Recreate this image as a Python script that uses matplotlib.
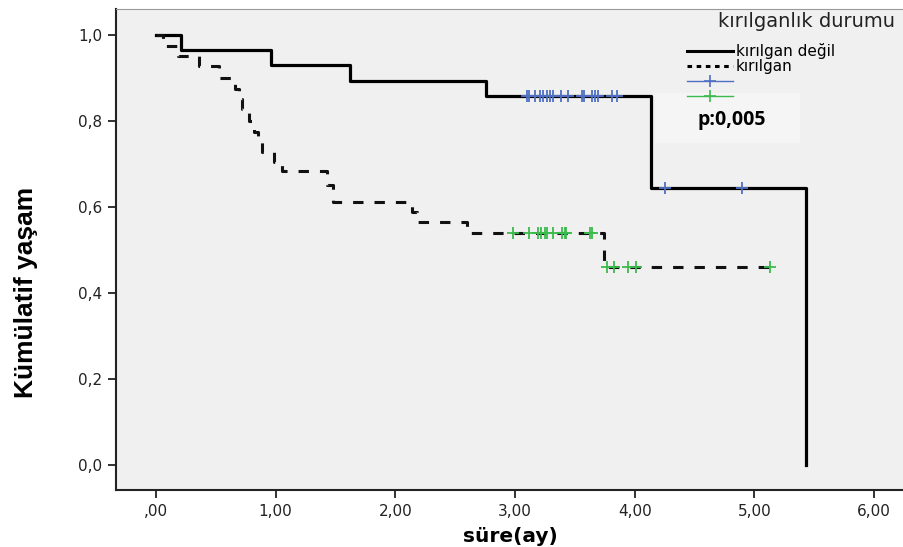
import matplotlib.pyplot as plt
import numpy as np
from matplotlib.lines import Line2D
from matplotlib.patches import Rectangle

# ---------------------------------------------------------------------------
# Kaplan-Meier estimates (time in months)
# ---------------------------------------------------------------------------
solid_t = [0.0, 0.21, 0.96, 1.62, 2.76, 4.14, 5.43]
solid_s = [1.0, 0.964, 0.929, 0.893, 0.857, 0.643, 0.0]

dash_t = [0.0, 0.06, 0.18, 0.36, 0.53, 0.66, 0.69, 0.72, 0.78, 0.82, 0.85,
          0.89, 0.99, 1.05, 1.43, 1.48, 2.14, 2.18, 2.60, 3.74, 5.13]
dash_s = [1.0, 0.975, 0.951, 0.928, 0.90, 0.875, 0.85, 0.828, 0.80, 0.775,
          0.75, 0.728, 0.705, 0.683, 0.65, 0.612, 0.588, 0.565, 0.539, 0.461,
          0.461]

# censored observations
cens_solid = [3.10, 3.12, 3.17, 3.21, 3.23, 3.27, 3.29, 3.32, 3.38, 3.44,
              3.56, 3.58, 3.64, 3.67, 3.69, 3.81, 3.85, 4.25, 4.90]
cens_dash = [2.98, 3.12, 3.19, 3.22, 3.25, 3.27, 3.32, 3.39, 3.42, 3.43,
             3.63, 3.64, 3.77, 3.83, 3.94, 4.01, 5.13]

x_ticks = [0, 1, 2, 3, 4, 5, 6]
x_labels = [",00", "1,00", "2,00", "3,00", "4,00", "5,00", "6,00"]
y_ticks = [0.0, 0.2, 0.4, 0.6, 0.8, 1.0]
y_labels = ["0,0", "0,2", "0,4", "0,6", "0,8", "1,0"]

BLUE = "#4f6fc4"
GREEN = "#3cba4e"


def km_at(times, surv, t):
    idx = np.searchsorted(times, t, side="right") - 1
    return np.asarray(surv)[idx]


def main() -> None:
    fig = plt.figure(figsize=(9.04, 5.47), dpi=100)
    ax = fig.add_axes([116 / 904, 57 / 547, 788 / 904, 481 / 547])
    ax.set_facecolor("#f0f0f0")

    ax.step(solid_t, solid_s, where="post", color="black", lw=2.3)
    ax.step(dash_t, dash_s, where="post", color="#111111", lw=2.2,
            linestyle=(0, (3.4, 3.6)))

    ax.plot(cens_solid, km_at(solid_t, solid_s, cens_solid), ls="none",
            marker="+", ms=8, mew=1.3, color=BLUE)
    ax.plot(cens_dash, km_at(dash_t, dash_s, cens_dash), ls="none",
            marker="+", ms=8, mew=1.3, color=GREEN)

    ax.set_xlim(-0.334, 6.25)
    ax.set_ylim(-0.058, 1.06)
    ax.set_xticks(x_ticks, x_labels)
    ax.set_yticks(y_ticks, y_labels)
    ax.tick_params(direction="out", length=6, width=1.3, color="#222222",
                   labelsize=11, labelcolor="#222222", pad=4)
    for side in ("left", "bottom"):
        ax.spines[side].set_linewidth(1.5)
        ax.spines[side].set_color("#222222")
    ax.spines["top"].set_color("#999999")
    ax.spines["right"].set_visible(False)

    ax.set_xlabel("süre(ay)", fontsize=14.5, fontweight="bold", labelpad=6)
    ax.set_ylabel("Kümülatif yaşam", fontsize=19, fontweight="bold",
                  family=["Liberation Sans", "DejaVu Sans"])
    ax.yaxis.set_label_coords(-0.099, 0.41)

    # legend: title as its own text, entries indented under it
    ax.text(0.9886, 0.975, "kırılganlık durumu", transform=ax.transAxes,
            fontsize=14, color="#222222", ha="right", va="center")
    handles = [
        Line2D([], [], color="black", lw=2.2),
        Line2D([], [], color="black", lw=2.2, linestyle=(0, (1.5, 1.5))),
        Line2D([], [], color=BLUE, lw=1, marker="+", ms=9, mew=1.2),
        Line2D([], [], color=GREEN, lw=1, marker="+", ms=9, mew=1.2),
    ]
    ax.legend(handles, ["kırılgan değil", "kırılgan", "", ""],
              loc="upper left", bbox_to_anchor=(0.7246, 0.929),
              frameon=False, fontsize=11, handlelength=3.0,
              handletextpad=0.2, labelspacing=0.0, borderpad=0,
              borderaxespad=0)

    # p-value box
    ax.add_patch(Rectangle((0.684, 0.721), 0.184, 0.104,
                           transform=ax.transAxes, facecolor="#f5f5f5",
                           edgecolor="none", zorder=1))
    ax.text(0.782, 0.769, "p:0,005", transform=ax.transAxes, fontsize=14,
            fontweight="bold", family=["Open Sans", "DejaVu Sans"],
            ha="center", va="center", zorder=2)

    fig.savefig("out.png", dpi=100)


if __name__ == "__main__":
    main()
